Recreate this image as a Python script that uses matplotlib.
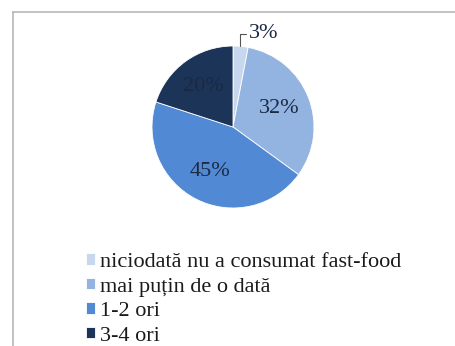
import matplotlib
matplotlib.use("Agg")
import matplotlib.pyplot as plt
from matplotlib.lines import Line2D

categories = [
    "niciodată nu a consumat fast-food",
    "mai puțin de o dată",
    "1-2 ori",
    "3-4 ori",
]
shares = [3, 32, 45, 20]
colors = ["#c6d7ee", "#93b3e0", "#5189d4", "#1c3458"]

plt.rcParams["font.family"] = ["Liberation Serif", "DejaVu Serif"]

W, H = 455, 346
fig = plt.figure(figsize=(W / 100, H / 100), dpi=100)
fig.patch.set_facecolor("white")

# gray frame on the left and top
fig.add_artist(Line2D([13 / W, 13 / W], [0, 1 - 12 / H], color="#b8b8b8", lw=1.2))
fig.add_artist(Line2D([13 / W, 1], [1 - 12 / H, 1 - 12 / H], color="#b8b8b8", lw=1.2))

cx, cy, r = 233, 127, 81
ax = fig.add_axes([(cx - r) / W, 1 - (cy + r) / H, 2 * r / W, 2 * r / H])
wedges, texts, autotexts = ax.pie(
    shares,
    colors=colors,
    startangle=90,
    counterclock=False,
    autopct="%d%%",
    pctdistance=0.62,
    radius=1,
    wedgeprops=dict(edgecolor="white", linewidth=0.6),
    textprops=dict(fontsize=16, color="#1b2a44"),
)
ax.set_xlim(-1, 1)
ax.set_ylim(-1, 1)
ax.set_aspect("auto")

# small slice gets an outside label with leader line
autotexts[0].set_visible(False)
ax.annotate(
    f"{shares[0]}%",
    xy=(0.09, 1.0),
    xytext=(0.38, 1.15),
    fontsize=16,
    color="#1b2a44",
    ha="center",
    va="center",
    annotation_clip=False,
    arrowprops=dict(arrowstyle="-", color="#555555", lw=0.8,
                    connectionstyle="angle,angleA=180,angleB=90,rad=0",
                    shrinkA=10, shrinkB=0),
)

fig.legend(
    wedges,
    categories,
    loc="upper left",
    bbox_to_anchor=(86 / W, 1 - 253 / H),
    frameon=False,
    fontsize=16,
    handlelength=0.42,
    handleheight=0.42,
    handletextpad=0.2,
    labelspacing=0.25,
    borderpad=0,
    borderaxespad=0,
    labelcolor="#1a1a1a",
)

fig.savefig("out.png", dpi=100, facecolor="white")
